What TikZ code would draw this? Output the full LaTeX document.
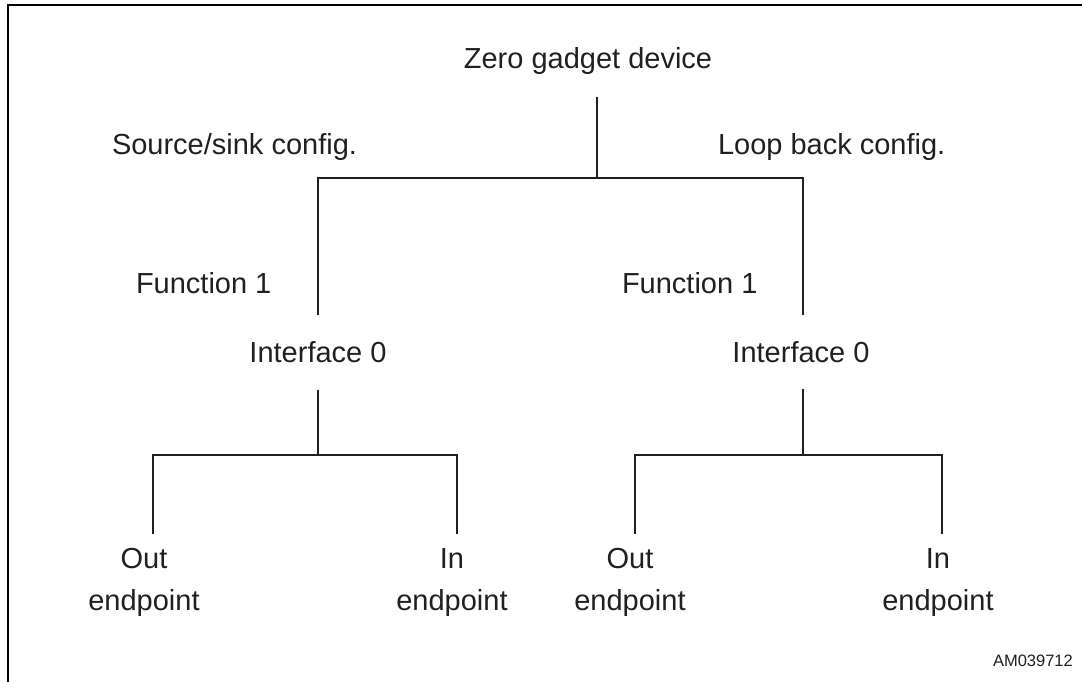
\documentclass[tikz,border=0pt]{standalone}
\usepackage{fontspec}
\setmainfont{Liberation Sans}
\definecolor{ink}{HTML}{231F20}
\begin{document}
\begin{tikzpicture}[x=1pt,y=-1pt,
  label/.style={inner sep=0pt, outer sep=0pt, text=ink,
    font=\fontsize{29}{42}\selectfont},
  leaf/.style={label, align=center, anchor=base},
  tree/.style={draw=ink, line width=2.2pt},
  frame/.style={draw=black, line width=2pt},
  tag/.style={inner sep=0pt, text=ink, font=\fontsize{16.5}{20}\selectfont, anchor=base east}]
\useasboundingbox (0,0) rectangle (1082,682);

% open frame: left and top edges
\coordinate (frame-bl) at (8,682);
\coordinate (frame-tl) at (8,5);
\coordinate (frame-tr) at (1082,5);
\draw[frame] (frame-bl) -- (frame-tl) -- (frame-tr);

% labels
\node[label, anchor=base] (root) at (588,69) {Zero gadget device};
\node[label, anchor=base west] (cfg-ss) at (112,155) {Source/sink config.};
\node[label, anchor=base west] (cfg-lb) at (718,154) {Loop back config.};
\node[label, anchor=base west] (fn-ss) at (136,293) {Function 1};
\node[label, anchor=base west] (fn-lb) at (622,293) {Function 1};
\node[label, anchor=base] (if-ss) at (318,362) {Interface 0};
\node[label, anchor=base] (if-lb) at (801,362) {Interface 0};
% two-line leaves: the base anchor sits on the last line
\node[leaf] (ep-ss-out) at (144,610) {Out\\endpoint};
\node[leaf] (ep-ss-in)  at (452,610) {In\\endpoint};
\node[leaf] (ep-lb-out) at (630,610) {Out\\endpoint};
\node[leaf] (ep-lb-in)  at (938,610) {In\\endpoint};
\node[tag] (figid) at (1073,666) {AM039712};

% tree junction points
\coordinate (root-stem) at (597,97);
\coordinate (root-fork) at (597,178);
\coordinate (ss-corner) at (318,178);
\coordinate (lb-corner) at (803,178);
\coordinate (ss-end) at (318,315);
\coordinate (lb-end) at (803,315);

\coordinate (ss-stem) at (318,390);
\coordinate (ss-fork) at (318,455);
\coordinate (ss-out-corner) at (153,455);
\coordinate (ss-in-corner) at (457,455);
\coordinate (ss-out-end) at (153,534);
\coordinate (ss-in-end) at (457,534);

\coordinate (lb-stem) at (803,389);
\coordinate (lb-fork) at (803,455);
\coordinate (lb-out-corner) at (635,455);
\coordinate (lb-in-corner) at (942,455);
\coordinate (lb-out-end) at (635,534);
\coordinate (lb-in-end) at (942,534);

% device -> configurations
\draw[tree] (root-stem) -- (root-fork);
\draw[tree] (ss-end) -- (ss-corner) -- (lb-corner) -- (lb-end);

% interfaces -> endpoints
\draw[tree] (ss-stem) -- (ss-fork);
\draw[tree] (ss-out-end) -- (ss-out-corner) -- (ss-in-corner) -- (ss-in-end);
\draw[tree] (lb-stem) -- (lb-fork);
\draw[tree] (lb-out-end) -- (lb-out-corner) -- (lb-in-corner) -- (lb-in-end);
\end{tikzpicture}
\end{document}
